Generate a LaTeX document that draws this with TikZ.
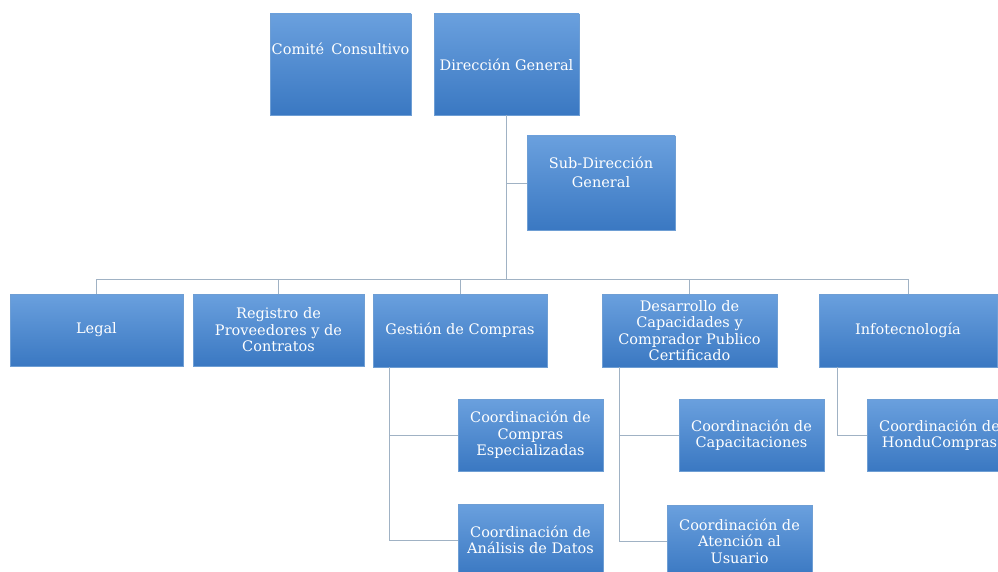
\documentclass[tikz,border=0pt]{standalone}
\usepackage{fontspec}
\setmainfont{DejaVu Serif}
\usetikzlibrary{calc}
\definecolor{boxtop}{RGB}{106,160,222}
\definecolor{boxbot}{RGB}{58,120,194}
\definecolor{boxedge}{RGB}{110,158,212}
\definecolor{linec}{RGB}{160,178,196}
\tikzset{
  orgbox/.style={rectangle, top color=boxtop, bottom color=boxbot, draw=boxedge, line width=0.4pt,
    text=white, align=center, inner sep=1pt, font=\fontsize{14.5}{16.5}\selectfont},
  conn/.style={draw=linec, line width=0.9pt}
}
\begin{document}
\begin{tikzpicture}[x=1pt,y=-1pt]
\useasboundingbox (0,0) rectangle (998,572);
\clip (0,0) rectangle (998,572);
% top level
\node[orgbox, minimum width=141pt, minimum height=101pt] (cc) at (340.5,64.5) {\raisebox{9.5pt}[0pt][0pt]{Comité\, Consultivo}};
\node[orgbox, minimum width=145pt, minimum height=101pt] (dg) at (506.5,64.5) {Dirección General};
\node[orgbox, minimum width=148pt, minimum height=94pt] (sub) at (601,183) {\raisebox{4.5pt}[0pt][0pt]{\begin{tabular}{@{}c@{}}Sub-Dirección\\[3pt]General\end{tabular}}};
% second row
\node[orgbox, minimum width=173pt, minimum height=72pt] (legal) at (96.5,330) {Legal};
\node[orgbox, minimum width=171pt, minimum height=72pt] (reg) at (278.5,330) {Registro de\\Proveedores y de\\Contratos};
\node[orgbox, minimum width=174pt, minimum height=73pt] (gest) at (460,330.5) {Gestión de Compras};
\node[orgbox, minimum width=175pt, minimum height=73pt] (des) at (689.5,330.5) {Desarrollo de\\Capacidades y\\Comprador Publico\\Certificado};
\node[orgbox, minimum width=178pt, minimum height=73pt] (info) at (908,330.5) {Infotecnología};
% third level
\node[orgbox, minimum width=145pt, minimum height=72pt] (cce) at (530.5,435) {Coordinación de\\Compras\\Especializadas};
\node[orgbox, minimum width=145pt, minimum height=72pt] (cad) at (530.5,540) {Coordinación de\\Análisis de Datos};
\node[orgbox, minimum width=145pt, minimum height=72pt] (ccap) at (751.5,435) {Coordinación de\\Capacitaciones};
\node[orgbox, minimum width=145pt, minimum height=72pt] (catu) at (739.5,541) {Coordinación de\\Atención al\\Usuario};
\node[orgbox, minimum width=145pt, minimum height=72pt] (chon) at (939.5,435) {Coordinación de\\HonduCompras};
% connectors
\coordinate (trunk) at (dg.south |- 0,279);
\draw[conn] (dg.south) -- (trunk);
\draw[conn] (sub.west) -- (sub.west -| dg.south);
\draw[conn] (legal.north) |- (trunk);
\draw[conn] (reg.north) |- (trunk);
\draw[conn] (gest.north) |- (trunk);
\draw[conn] (des.north) |- (trunk);
\draw[conn] (info.north) |- (trunk);
\coordinate (gx) at ($(gest.south west)+(17,0)$);
\draw[conn] (gx) |- (cce.west);
\draw[conn] (gx) |- (cad.west);
\coordinate (dx) at ($(des.south west)+(18,0)$);
\draw[conn] (dx) |- (ccap.west);
\draw[conn] (dx) |- (catu.west);
\coordinate (ix) at ($(info.south west)+(19,0)$);
\draw[conn] (ix) |- (chon.west);
\end{tikzpicture}
\end{document}
